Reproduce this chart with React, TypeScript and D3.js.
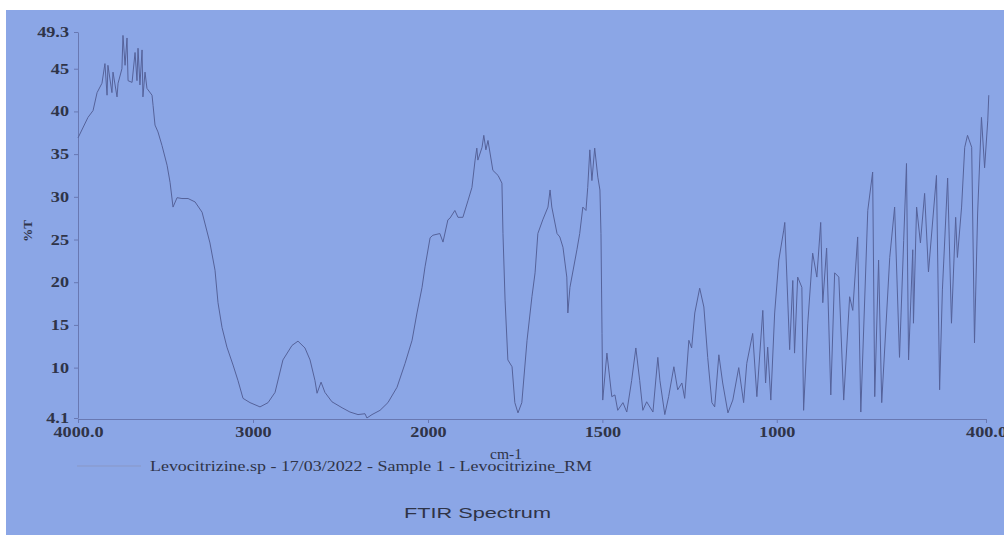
import React, { useEffect, useRef } from 'react';
import * as d3 from 'd3';

// spectrum, [wavenumber cm-1, %T]
const ohStretch: [number, number][] = [
  [4000, 36.9], [3943, 39.3], [3914, 40.1], [3891, 42.2], [3863, 43.3], [3846, 45.6], [3834, 41.9],
  [3829, 45.4], [3806, 42.2], [3800, 44.6], [3777, 41.7], [3771, 43.3], [3749, 45.0], [3743, 48.9],
  [3731, 45.4], [3720, 48.6], [3714, 43.6], [3691, 43.4], [3674, 46.9], [3663, 43.6], [3657, 47.4],
  [3646, 43.1], [3634, 47.2], [3629, 41.7], [3617, 44.6], [3606, 42.7], [3577, 41.9], [3571, 40.7],
  [3560, 38.4], [3543, 37.6], [3520, 36.0], [3491, 33.7], [3474, 31.7], [3457, 28.8], [3434, 29.9],
  [3406, 29.8], [3371, 29.8], [3331, 29.4], [3291, 28.2], [3246, 24.6], [3217, 21.4], [3200, 17.6],
  [3177, 14.7], [3149, 12.4], [3114, 10.3], [3086, 8.5], [3057, 6.4],
];

const chStretch: [number, number][] = [
  [3017, 5.9], [2960, 5.4], [2914, 5.9], [2874, 7.1], [2829, 10.9], [2777, 12.6], [2743, 13.1],
  [2703, 12.3], [2674, 10.9], [2646, 8.5], [2634, 7.0], [2611, 8.3], [2589, 7.1], [2549, 6.0],
  [2491, 5.3], [2446, 4.8], [2400, 4.5], [2360, 4.6], [2349, 4.1], [2320, 4.5], [2274, 5.0],
  [2229, 5.9], [2177, 7.7], [2131, 10.5], [2091, 13.2], [2063, 16.4], [2034, 19.4], [2017, 21.8],
];

const doubleBond: [number, number][] = [
  [1994, 25.2], [1986, 25.5], [1966, 25.7], [1957, 24.7], [1943, 27.3], [1937, 27.5], [1923, 28.4],
  [1914, 27.6], [1900, 27.6], [1885, 29.6], [1874, 31.1], [1865, 34.3], [1860, 35.7], [1857, 34.3],
  [1845, 35.8], [1840, 37.2], [1834, 35.5], [1828, 36.6], [1814, 33.1], [1799, 32.5], [1788, 31.6],
  [1785, 25.7], [1779, 17.9], [1771, 10.9], [1759, 10.1], [1751, 5.9], [1742, 4.7], [1731, 5.9],
  [1716, 13.2], [1702, 18.3], [1693, 21.1], [1685, 25.7], [1671, 27.3], [1656, 28.8], [1650, 30.8],
  [1645, 28.8], [1630, 25.7], [1622, 25.3], [1613, 24.1], [1602, 20.6], [1599, 16.4], [1593, 19.4],
  [1573, 23.8], [1565, 25.7], [1556, 28.8], [1547, 28.4], [1542, 31.1], [1536, 35.5], [1530, 31.9],
  [1522, 35.7], [1513, 32.3], [1507, 30.8], [1504, 25.7], [1501, 14.0],
];

const fingerprint: [number, number][] = [
  [1499, 6.2], [1487, 11.7], [1473, 6.6], [1464, 6.8], [1456, 5.0], [1441, 5.9], [1430, 4.8],
  [1416, 8.5], [1404, 12.3], [1393, 8.5], [1384, 5.0], [1373, 6.0], [1355, 4.8], [1341, 11.2],
  [1335, 8.5], [1321, 4.5], [1310, 6.6], [1295, 10.1], [1284, 7.4], [1272, 8.2], [1264, 6.4],
  [1252, 13.2], [1244, 12.3], [1235, 16.4], [1221, 19.3], [1209, 17.1], [1198, 11.2], [1186, 5.9],
  [1178, 5.4], [1166, 11.5], [1155, 8.2], [1140, 4.7], [1126, 6.2], [1109, 10.0], [1095, 5.9],
  [1086, 10.5], [1069, 14.0], [1057, 6.6], [1040, 16.7], [1032, 8.2], [1026, 12.4], [1017, 6.2],
  [1006, 16.4], [994, 22.6], [980, 26.1], [977, 27.0], [963, 12.1], [954, 20.2], [949, 11.7],
  [940, 20.6], [928, 19.4], [923, 5.0], [911, 15.2], [897, 23.4], [885, 20.6], [874, 27.0],
  [868, 17.6], [857, 24.0], [845, 6.8], [834, 21.1], [822, 20.6], [808, 6.2], [791, 18.3],
  [782, 16.7], [768, 25.3], [759, 4.8], [739, 28.4], [725, 32.9], [719, 6.6], [708, 22.6],
  [699, 5.9], [676, 22.9], [662, 28.8], [648, 11.2], [636, 24.9], [628, 33.9], [622, 10.9],
  [610, 23.8], [608, 15.2], [599, 28.8], [588, 24.6], [576, 30.4], [565, 21.2], [542, 32.5],
  [533, 7.4], [525, 19.1], [510, 32.2], [499, 15.2], [487, 27.6], [482, 22.9], [470, 28.8],
  [461, 35.8], [453, 37.2], [441, 35.8], [433, 12.9], [424, 28.1], [413, 39.3], [404, 33.4],
  [395, 38.9], [392, 41.9],
];

const xTickValues = [4000, 3000, 2000, 1500, 1000, 400];
const xTickLabels = ['4000.0', '3000', '2000', '1500', '1000', '400.0'];
const yTickValues = [4.1, 10, 15, 20, 25, 30, 35, 40, 45, 49.3];
const yTickLabels = ['4.1', '10', '15', '20', '25', '30', '35', '40', '45', '49.3'];

const xTitle = 'cm-1';
const yTitle = '%T';
const legendLabel = 'Levocitrizine.sp - 17/03/2022 - Sample 1 - Levocitrizine_RM';
const chartTitle = 'FTIR Spectrum';

const App = () => {
  const svgRef = useRef<SVGSVGElement>(null);

  useEffect(() => {
    const svg = d3.select(svgRef.current);
    svg.selectAll('*').remove();

    const W = 1004;
    const H = 535;
    const ink = '#2f3448';
    const axisColor = '#6878b2';
    const serif = '"Liberation Serif", "Times New Roman", serif';

    svg.append('rect').attr('width', W).attr('height', H).attr('fill', '#ffffff');
    svg.append('rect').attr('x', 6).attr('y', 10).attr('width', W - 6).attr('height', H - 10).attr('fill', '#8ba6e6');

    // the instrument halves the scale above 2000 cm-1
    const x = d3.scaleLinear().domain([4000, 2000, 400]).range([78, 428, 986]);
    const y = d3.scaleLinear().domain([4.1, 49.3]).range([418, 32]);

    const yAxis = svg.append('g')
      .attr('transform', 'translate(78,0)')
      .call(d3.axisLeft(y).tickValues(yTickValues).tickSize(4).tickSizeOuter(0)
        .tickFormat((d, i) => yTickLabels[i]));

    const xAxis = svg.append('g')
      .attr('transform', 'translate(0,419)')
      .call(d3.axisBottom(x).tickValues(xTickValues).tickSize(4).tickSizeOuter(0)
        .tickFormat((d, i) => xTickLabels[i]));

    [yAxis, xAxis].forEach(g => {
      g.select('.domain').attr('stroke', axisColor);
      g.selectAll('.tick line').attr('stroke', axisColor);
      g.selectAll<SVGTextElement, unknown>('.tick text')
        .attr('fill', ink)
        .attr('font-family', serif)
        .attr('font-weight', 'bold')
        .attr('font-size', 14)
        .each(function () {
          // the scanned labels are drawn wider than the font
          const len = this.getComputedTextLength();
          d3.select(this).attr('textLength', len * 1.3).attr('lengthAdjust', 'spacingAndGlyphs');
        });
    });
    yAxis.selectAll('.tick text').attr('x', -9);
    xAxis.selectAll('.tick text').attr('y', 8);

    const spectrum = [...ohStretch, ...chStretch, ...doubleBond, ...fingerprint];
    const line = d3.line<[number, number]>()
      .x(d => x(d[0]))
      .y(d => y(d[1]));

    svg.append('path')
      .datum(spectrum)
      .attr('fill', 'none')
      .attr('stroke', '#55629a')
      .attr('stroke-width', 1)
      .attr('stroke-linejoin', 'round')
      .attr('d', line);

    svg.append('text')
      .attr('x', 27)
      .attr('y', 231)
      .attr('transform', 'rotate(-90,27,231)')
      .attr('text-anchor', 'middle')
      .attr('dy', '0.35em')
      .attr('fill', ink)
      .attr('font-family', serif)
      .attr('font-weight', 'bold')
      .attr('font-size', 13)
      .text(yTitle);

    svg.append('text')
      .attr('x', 506)
      .attr('y', 459)
      .attr('text-anchor', 'middle')
      .attr('fill', ink)
      .attr('font-family', serif)
      .attr('font-size', 14)
      .attr('textLength', 32)
      .attr('lengthAdjust', 'spacingAndGlyphs')
      .text(xTitle);

    svg.append('line')
      .attr('x1', 77).attr('x2', 141)
      .attr('y1', 466).attr('y2', 466)
      .attr('stroke', '#8997c6');

    svg.append('text')
      .attr('x', 150)
      .attr('y', 471)
      .attr('fill', ink)
      .attr('font-family', serif)
      .attr('font-size', 14)
      .attr('textLength', 442)
      .attr('lengthAdjust', 'spacingAndGlyphs')
      .text(legendLabel);

    svg.append('text')
      .attr('x', 404)
      .attr('y', 518)
      .attr('fill', ink)
      .attr('font-family', '"Liberation Sans", Arial, sans-serif')
      .attr('font-size', 14)
      .attr('textLength', 147)
      .attr('lengthAdjust', 'spacingAndGlyphs')
      .text(chartTitle);
  }, []);

  return (
    <svg
      ref={svgRef}
      width={1004}
      height={535}
      style={{ position: 'absolute', left: 0, top: 0 }}
    />
  );
};

export default App;
